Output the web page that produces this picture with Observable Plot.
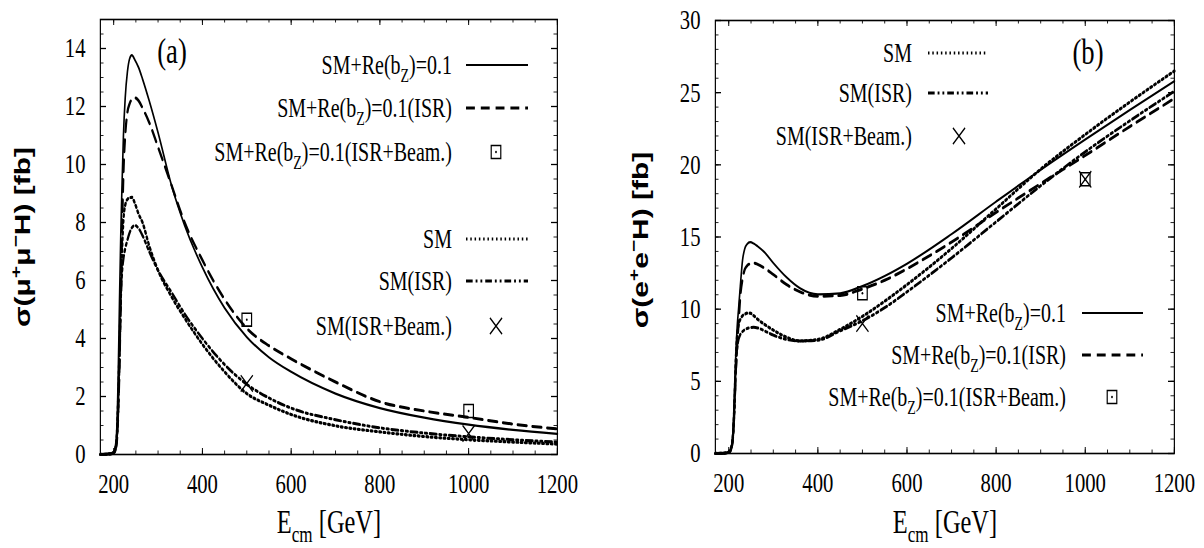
<!DOCTYPE html>
<html><head><meta charset="utf-8">
<script src="https://cdn.jsdelivr.net/npm/d3@7"></script>
<script src="https://cdn.jsdelivr.net/npm/@observablehq/plot@0.6"></script>
<style>
body{margin:0;background:#fff;}
#wrap{position:relative;width:1204px;height:548px;overflow:hidden;background:#fff;}
#wrap svg{position:absolute;top:0;}
</style></head><body><div id="wrap"></div>
<script>
// ---------- data ----------
const energy = [170,190,200,204,207,210,213,216,219,222,226,231,236,241,248,256,265,280,300,330,360,400,450,500,550,600,700,800,900,1000,1100,1200];
// panel (a): sigma(mu+ mu- H) [fb]
const muBz     = [0,0.03,0.1,0.3,0.9,2.6,5.2,7.6,9.4,11.0,12.3,13.2,13.65,13.77,13.6,13.35,12.95,12.2,11.1,9.3,7.9,6.45,5.05,4.05,3.35,2.85,2.1,1.6,1.27,1.03,0.85,0.71];
const muBzISR  = [0,0.02,0.07,0.2,0.5,1.3,3.0,5.3,7.8,9.7,11.0,11.8,12.1,12.25,12.3,12.2,11.95,11.45,10.6,9.3,8.0,6.7,5.35,4.35,3.75,3.3,2.5,1.82,1.5,1.28,1.05,0.88];
const muSM     = [0,0.02,0.06,0.2,0.6,1.8,3.6,5.5,7.1,8.1,8.6,8.8,8.85,8.87,8.65,8.3,8.0,7.2,6.35,5.45,4.7,3.8,2.85,2.1,1.7,1.38,0.99,0.78,0.62,0.51,0.43,0.36];
const muSMISR  = [0,0.01,0.05,0.15,0.4,1.5,3.2,5.3,6.3,6.75,7.1,7.4,7.65,7.82,7.9,7.8,7.55,7.0,6.35,5.6,4.85,4.0,3.1,2.42,1.95,1.6,1.2,0.92,0.74,0.61,0.51,0.43];
// panel (b): sigma(e+ e- H) [fb]
const eeBz     = [0,0.03,0.1,0.3,0.7,1.8,4.5,7.0,8.8,10.0,11.6,13.4,14.2,14.5,14.64,14.55,14.35,13.95,13.2,12.2,11.45,11.03,11.1,11.6,12.3,13.15,15.2,17.45,19.65,21.75,23.8,25.8];
const eeBzISR  = [0,0.02,0.07,0.2,0.5,1.3,3.5,5.8,7.5,9.0,10.9,12.1,12.75,13.0,13.15,13.2,13.1,12.85,12.4,11.7,11.2,10.9,10.95,11.4,12.0,12.8,14.65,16.7,18.7,20.65,22.65,24.6];
const eeSM     = [0,0.03,0.1,0.3,0.6,1.5,3.5,6.5,8.2,8.9,9.3,9.55,9.65,9.72,9.72,9.55,9.3,8.95,8.55,8.05,7.8,7.9,8.6,9.5,10.55,11.7,14.2,16.95,19.7,22.1,24.35,26.5];
const eeSMISR  = [0,0.02,0.07,0.2,0.5,1.3,3.2,5.8,7.3,7.9,8.25,8.45,8.58,8.66,8.72,8.75,8.7,8.5,8.2,7.9,7.8,7.85,8.5,9.2,10.1,11.2,13.55,16.05,18.55,20.9,23.05,25.1];
// ISR + beamstrahlung points
const beamE     = [500, 1000];
const muBeamBz  = [4.65, 1.5];
const muBeamSM  = [2.45, 0.72];
const eeBeamBz  = [11.1, 19.0];
const eeBeamSM  = [9.0, 19.0];
// ticks
const xTicks  = [200,400,600,800,1000,1200];
const xMinor  = d3.range(200, 1201, 50);
const yTicksA = [0,2,4,6,8,10,12,14];
const yMinorA = d3.range(0, 15.01, 0.5);
const yTicksB = [0,5,10,15,20,25,30];
const yMinorB = d3.range(0, 30.01, 1);
// labels
const lblBz     = [["SM+Re(b"],["Z","sub"],[")=0.1"]];
const lblBzISR  = [["SM+Re(b"],["Z","sub"],[")=0.1(ISR)"]];
const lblBzBeam = [["SM+Re(b"],["Z","sub"],[")=0.1(ISR+Beam.)"]];
const lblSM     = [["SM"]];
const lblSMISR  = [["SM(ISR)"]];
const lblSMBeam = [["SM(ISR+Beam.)"]];
const yLabelA = [["σ(μ"],["+","sup"],["μ"],["−","sup"],["H) [fb]"]];
const yLabelB = [["σ(e"],["+","sup"],["e"],["−","sup"],["H) [fb]"]];
const xLabel  = [["E"],["cm","sub"],[" [GeV]"]];

// ---------- drawing ----------
const SX = 0.74;   // horizontal squeeze of the reference rendering
const SERIF = "Liberation Serif", SANS = "Liberation Sans";
const LS = {
  solid:   {strokeWidth: 2.2, dash: null},
  dashed:  {strokeWidth: 3,   dash: "12,8"},
  dotted:  {strokeWidth: 3.2, dash: "2,3.8"},
  dashdot: {strokeWidth: 3,   dash: "9,4,2.5,4,2.5,4"}
};

function richText(g, x, y, parts, size, family, anchor, weight) {
  const t = g.append("text").attr("x", x).attr("y", y).attr("font-size", size)
    .attr("font-family", family).attr("text-anchor", anchor).attr("fill", "black");
  if (weight) t.attr("font-weight", weight);
  let shift = 0;
  for (const [str, kind] of parts) {
    const target = kind === "sub" ? size * 0.28 : kind === "sup" ? -size * 0.42 : 0;
    const ts = t.append("tspan").attr("dy", target - shift).text(str);
    if (kind) ts.attr("font-size", size * 0.7);
    shift = target;
  }
  return t;
}

function panel(o) {
  const W = o.w / SX, H = 548;
  const mL = o.left / SX, mR = (o.w - o.right) / SX, mT = o.top, mB = H - o.bottom;
  const iW = W - mL - mR, iH = H - mT - mB;
  const maj = 6, mnr = 3.5;
  const lines = o.series.map(s => Plot.line(energy.map((e, i) => ({E: e, v: s.values[i]})), {
    x: "E", y: "v", curve: "monotone-x", stroke: "black",
    strokeWidth: LS[s.style].strokeWidth, strokeDasharray: LS[s.style].dash
  }));
  const sq = beamE.map((e, i) => ({E: e, v: o.beamBz[i]}));
  const cr = beamE.map((e, i) => ({E: e, v: o.beamSM[i]}));
  const svg = Plot.plot({
    width: W, height: H, marginLeft: mL, marginRight: mR, marginTop: mT, marginBottom: mB,
    x: {domain: [170, 1200]}, y: {domain: o.yDomain},
    style: {fontFamily: SERIF, fontSize: "28px", background: "white", overflow: "visible"},
    marks: [
      Plot.ruleX(xMinor, {x: d => d, insetTop: iH - mnr, stroke: "black"}),
      Plot.ruleX(xMinor, {x: d => d, insetBottom: iH - mnr, stroke: "black"}),
      Plot.ruleX(xTicks, {x: d => d, insetTop: iH - maj, stroke: "black", strokeWidth: 1.3}),
      Plot.ruleX(xTicks, {x: d => d, insetBottom: iH - maj, stroke: "black", strokeWidth: 1.3}),
      Plot.ruleY(o.yMinor, {y: d => d, insetRight: iW - mnr / SX, stroke: "black"}),
      Plot.ruleY(o.yMinor, {y: d => d, insetLeft: iW - mnr / SX, stroke: "black"}),
      Plot.ruleY(o.yTicks, {y: d => d, insetRight: iW - maj / SX, stroke: "black", strokeWidth: 1.3}),
      Plot.ruleY(o.yTicks, {y: d => d, insetLeft: iW - maj / SX, stroke: "black", strokeWidth: 1.3}),
      Plot.axisX({ticks: xTicks, tickSize: 0, tickPadding: 19, fontSize: 28, fontFamily: SERIF, label: null, tickFormat: d => String(d)}),
      Plot.axisY({ticks: o.yTicks, tickSize: 0, tickPadding: 20, fontSize: 28, fontFamily: SERIF, label: null, tickFormat: d => String(d)}),
      ...lines,
      Plot.dot(sq, {x: "E", y: "v", symbol: "square", r: 7.3, stroke: "black", strokeWidth: 1.6, fill: "none"}),
      Plot.dot(sq, {x: "E", y: "v", r: 1.2, fill: "black"}),
      Plot.dot(cr, {x: "E", y: "v", symbol: "times", r: 7.5, stroke: "black", strokeWidth: 1.6}),
      Plot.frame({stroke: "black", strokeWidth: 1.6})
    ]
  });
  svg.setAttribute("width", o.w);
  svg.setAttribute("height", H);
  svg.setAttribute("viewBox", `0 0 ${W} ${H}`);
  svg.setAttribute("preserveAspectRatio", "none");
  svg.style.width = o.w + "px"; svg.style.height = H + "px"; svg.style.maxWidth = "none";
  svg.style.left = o.x + "px";

  const g = d3.select(svg).append("g");
  // panel tag
  richText(g, o.tag.x / SX, o.tag.y + 12, [[o.tag.text]], 36, SERIF, "middle");
  // axis titles
  richText(g, o.xlab.x / SX, o.xlab.y, xLabel, 33, SERIF, "middle");
  const yg = g.append("g").attr("transform", `translate(${o.ylab.x / SX},${o.ylab.y}) rotate(-90)`);
  richText(yg, 0, 0, o.ylab.parts, 30, SANS, "middle", "bold");
  // legends
  for (const L of o.legends) {
    for (const r of L.rows) {
      richText(g, L.textEnd / SX, r.y + 9, r.parts, 27, SERIF, "end");
      if (LS[r.sample]) {
        g.append("line").attr("x1", L.line[0] / SX).attr("x2", L.line[1] / SX)
          .attr("y1", r.y).attr("y2", r.y).attr("stroke", "black")
          .attr("stroke-width", LS[r.sample].strokeWidth)
          .attr("stroke-dasharray", LS[r.sample].dash);
      } else if (r.sample === "square") {
        g.append("path").attr("d", d3.symbol(d3.symbolSquare, Math.PI * 7.3 * 7.3)())
          .attr("transform", `translate(${L.sym / SX},${r.y})`)
          .attr("fill", "none").attr("stroke", "black").attr("stroke-width", 1.6);
        g.append("circle").attr("cx", L.sym / SX).attr("cy", r.y).attr("r", 1.2).attr("fill", "black");
      } else if (r.sample === "cross") {
        g.append("path").attr("d", d3.symbol(d3.symbolTimes, Math.PI * 7.5 * 7.5)())
          .attr("transform", `translate(${L.sym / SX},${r.y})`)
          .attr("fill", "none").attr("stroke", "black").attr("stroke-width", 1.6);
      }
    }
  }
  return svg;
}

const wrap = document.getElementById("wrap");
wrap.appendChild(panel({
  x: 0, w: 600, left: 100, right: 557, top: 19, bottom: 454,
  yDomain: [0, 15], yTicks: yTicksA, yMinor: yMinorA,
  series: [
    {values: muBz, style: "solid"}, {values: muBzISR, style: "dashed"},
    {values: muSM, style: "dotted"}, {values: muSMISR, style: "dashdot"}
  ],
  beamBz: muBeamBz, beamSM: muBeamSM,
  tag: {text: "(a)", x: 172, y: 51},
  xlab: {x: 329, y: 533},
  ylab: {x: 30, y: 237, parts: yLabelA},
  legends: [{textEnd: 452, line: [466, 528], sym: 496, rows: [
    {y: 65, parts: lblBz, sample: "solid"},
    {y: 108, parts: lblBzISR, sample: "dashed"},
    {y: 152, parts: lblBzBeam, sample: "square"},
    {y: 239, parts: lblSM, sample: "dotted"},
    {y: 281, parts: lblSMISR, sample: "dashdot"},
    {y: 326, parts: lblSMBeam, sample: "cross"}
  ]}]
}));
wrap.appendChild(panel({
  x: 600, w: 604, left: 115, right: 574, top: 20, bottom: 453,
  yDomain: [0, 30], yTicks: yTicksB, yMinor: yMinorB,
  series: [
    {values: eeBz, style: "solid"}, {values: eeBzISR, style: "dashed"},
    {values: eeSM, style: "dotted"}, {values: eeSMISR, style: "dashdot"}
  ],
  beamBz: eeBeamBz, beamSM: eeBeamSM,
  tag: {text: "(b)", x: 488, y: 52},
  xlab: {x: 345, y: 533},
  ylab: {x: 48, y: 240, parts: yLabelB},
  legends: [
    {textEnd: 312, line: [328, 388], sym: 359, rows: [
      {y: 53, parts: lblSM, sample: "dotted"},
      {y: 93, parts: lblSMISR, sample: "dashdot"},
      {y: 136, parts: lblSMBeam, sample: "cross"}
    ]},
    {textEnd: 466, line: [482, 543], sym: 512, rows: [
      {y: 313, parts: lblBz, sample: "solid"},
      {y: 355, parts: lblBzISR, sample: "dashed"},
      {y: 397, parts: lblBzBeam, sample: "square"}
    ]}
  ]
}));
</script>
</body></html>
